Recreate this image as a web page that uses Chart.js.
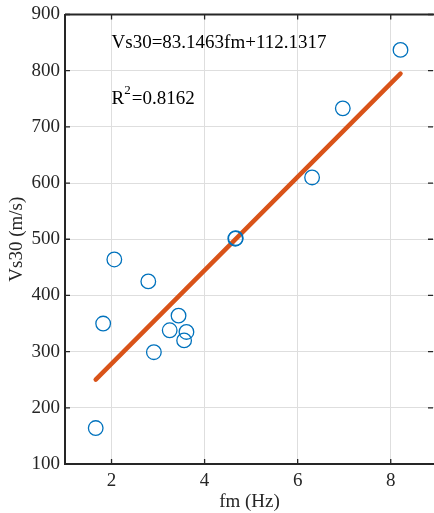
<!DOCTYPE html>
<html>
<head>
<meta charset="utf-8">
<script src="https://cdn.jsdelivr.net/npm/chart.js@4.4.0/dist/chart.umd.min.js"></script>
<style>
    html, body { margin: 0; padding: 0; background: #fff; }
    canvas { display: block; }
</style>
</head>
<body>
<canvas id="myChart" width="434" height="513"></canvas>
<script>
// measured points (fm in Hz, Vs30 in m/s)
const fmValues = [1.66, 1.82, 2.06, 2.79, 2.91, 3.25, 3.44, 3.61, 3.56, 4.66, 4.67, 6.31, 6.97, 8.21];
const vsValues = [164, 350, 464, 425, 299, 338, 364, 335, 320, 501, 502, 610, 733, 837];

// regression line end points
const fitFm = [1.66, 8.21];
const fitVs = [250.2, 794.8];

const xTicks = [2, 4, 6, 8];
const yTicks = [100, 200, 300, 400, 500, 600, 700, 800, 900];

const fontFamily = '"Liberation Serif", "Times New Roman", serif';
const axisColor = '#262626';

// text annotations, placed in data units
const eqText = { x: 2, y: 850, text: 'Vs30=83.1463fm+112.1317' };
const r2Text = { x: 2, y: 750, base: 'R', sup: '2', rest: '=0.8162' };

const points = fmValues.map((v, i) => ({ x: v, y: vsValues[i] }));
const fitLine = fitFm.map((v, i) => ({ x: v, y: fitVs[i] }));

// box, inward ticks and text
const extrasPlugin = {
    id: 'extras',
    afterDatasetsDraw(chart) {
        const ctx = chart.ctx;
        const area = chart.chartArea;
        const xs = chart.scales.x;
        const ys = chart.scales.y;
        ctx.save();

        // tick marks pointing inward
        ctx.strokeStyle = axisColor;
        ctx.lineWidth = 1.3;
        const len = 5;
        ctx.beginPath();
        xTicks.forEach(v => {
            const px = xs.getPixelForValue(v);
            ctx.moveTo(px, area.bottom);
            ctx.lineTo(px, area.bottom - len);
            ctx.moveTo(px, area.top);
            ctx.lineTo(px, area.top + len);
        });
        yTicks.forEach(v => {
            const py = ys.getPixelForValue(v);
            ctx.moveTo(area.left, py);
            ctx.lineTo(area.left + len, py);
            ctx.moveTo(area.right - 1, py);
            ctx.lineTo(area.right - 1 - len, py);
        });
        ctx.stroke();

        // top line of the box (right one falls outside the picture)
        ctx.lineWidth = 2;
        ctx.beginPath();
        ctx.moveTo(area.left, area.top);
        ctx.lineTo(area.right + 2, area.top);
        ctx.stroke();

        // annotations
        ctx.fillStyle = '#000';
        ctx.textBaseline = 'middle';
        ctx.textAlign = 'left';
        ctx.font = '19px ' + fontFamily;
        ctx.fillText(eqText.text, xs.getPixelForValue(eqText.x), ys.getPixelForValue(eqText.y));

        let px = xs.getPixelForValue(r2Text.x);
        const py = ys.getPixelForValue(r2Text.y);
        ctx.fillText(r2Text.base, px, py);
        px += ctx.measureText(r2Text.base).width;
        ctx.font = '13px ' + fontFamily;
        ctx.fillText(r2Text.sup, px, py - 8);
        px += ctx.measureText(r2Text.sup).width + 1;
        ctx.font = '19px ' + fontFamily;
        ctx.fillText(r2Text.rest, px, py);

        ctx.restore();
    }
};

const ctx = document.getElementById('myChart').getContext('2d');
const myChart = new Chart(ctx, {
    type: 'scatter',
    data: {
        datasets: [{
            label: 'data',
            data: points,
            pointStyle: 'circle',
            pointRadius: 7.3,
            pointBorderWidth: 1.3,
            pointBackgroundColor: 'rgba(0,0,0,0)',
            pointBorderColor: '#0072BD',
            showLine: false
        }, {
            label: 'fit',
            type: 'line',
            data: fitLine,
            borderColor: '#D95319',
            borderWidth: 4.5,
            borderCapStyle: 'round',
            pointRadius: 0,
            fill: false
        }]
    },
    options: {
        responsive: false,
        devicePixelRatio: 1,
        animation: false,
        layout: {
            autoPadding: false,
            padding: { top: 14.5, right: 0, left: 0, bottom: 0 }
        },
        plugins: {
            legend: { display: false },
            tooltip: { enabled: false }
        },
        scales: {
            x: {
                type: 'linear',
                min: 1,
                max: 8.93,
                afterBuildTicks: s => { s.ticks = xTicks.map(v => ({ value: v })); },
                afterFit: s => { s.height = 49; s.paddingRight = 0; s.paddingLeft = 0; },
                grid: { color: '#dedede', lineWidth: 1, drawTicks: false },
                border: { color: axisColor, width: 2 },
                ticks: {
                    padding: 6,
                    color: axisColor,
                    font: { family: fontFamily, size: 19 }
                },
                title: {
                    display: true,
                    text: 'fm (Hz)',
                    color: axisColor,
                    padding: { top: 0, bottom: 0 },
                    font: { family: fontFamily, size: 19 }
                }
            },
            y: {
                type: 'linear',
                min: 100,
                max: 900,
                afterBuildTicks: s => { s.ticks = yTicks.map(v => ({ value: v })); },
                afterFit: s => { s.width = 65; s.paddingTop = 0; s.paddingBottom = 0; },
                grid: { color: '#dedede', lineWidth: 1, drawTicks: false },
                border: { color: axisColor, width: 2 },
                ticks: {
                    padding: 5,
                    color: axisColor,
                    font: { family: fontFamily, size: 19 }
                },
                title: {
                    display: true,
                    text: 'Vs30 (m/s)',
                    color: axisColor,
                    padding: { top: 6, bottom: 0 },
                    font: { family: fontFamily, size: 19 }
                }
            }
        }
    },
    plugins: [extrasPlugin]
});
</script>
</body>
</html>
